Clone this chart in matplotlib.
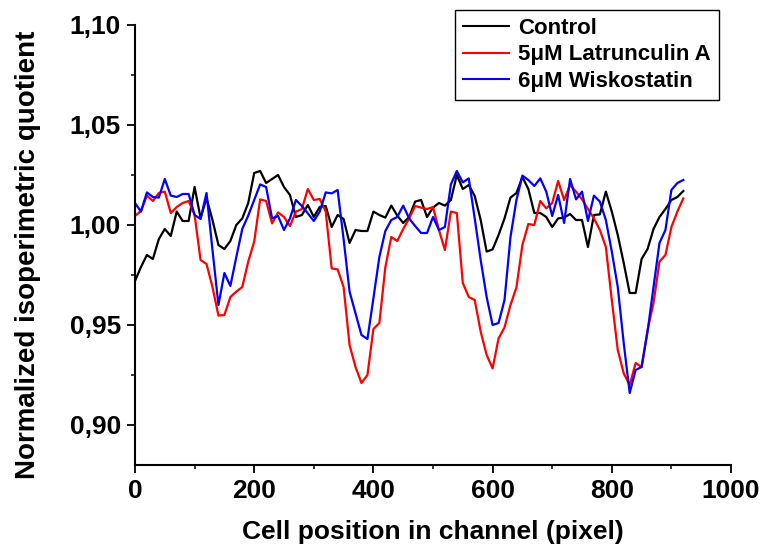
import numpy as np
import matplotlib
matplotlib.use('Agg')
from matplotlib import pyplot as plt
from matplotlib.ticker import MultipleLocator, FuncFormatter

# cell position along the channel (pixel), one sample every 10 px
position = np.arange(0, 930, 10)

control = [0.972, 0.979, 0.985, 0.983, 0.993, 0.998, 0.9945, 1.0067, 1.002, 1.002,
           1.019, 1.0035, 1.0135, 1.0025, 0.990, 0.988, 0.992, 1.000, 1.0033, 1.011,
           1.026, 1.027, 1.021, 1.023, 1.025, 1.019, 1.015, 1.004, 1.005, 1.010,
           1.004, 1.009, 1.0095, 0.999, 1.005, 1.003, 0.991, 0.9975, 0.997, 0.997,
           1.0067, 1.005, 1.0037, 1.0097, 1.0047, 1.001, 1.004, 1.0117, 1.0125, 1.004,
           1.0087, 1.011, 1.0097, 1.0125, 1.025, 1.018, 1.020, 1.0145, 1.0025, 0.9867,
           0.9878, 0.995, 1.0033, 1.0137, 1.016, 1.024, 1.018, 1.006, 1.006, 1.004,
           0.999, 1.0033, 1.0037, 1.0055, 1.0025, 1.0025, 0.989, 1.005, 1.0053, 1.0167,
           1.0067, 0.995, 0.981, 0.966, 0.966, 0.983, 0.988, 0.998, 1.004, 1.008,
           1.0125, 1.014, 1.017]

latrunculin = [1.0045, 1.007, 1.0147, 1.012, 1.016, 1.0167, 1.006, 1.009, 1.011, 1.012,
               1.005, 0.9825, 0.9805, 0.969, 0.9547, 0.955, 0.964, 0.9667, 0.969, 0.9817,
               0.9917, 1.0128, 1.012, 1.0008, 1.0063, 1.004, 0.9995, 1.0067, 1.008, 1.018,
               1.0125, 1.013, 1.0067, 0.9783, 0.9778, 0.969, 0.940, 0.929, 0.921, 0.925,
               0.948, 0.951, 0.9788, 0.994, 0.992, 0.998, 1.0033, 1.0095, 1.0087, 1.008,
               1.009, 0.9975, 0.9875, 1.0067, 1.006, 0.971, 0.964, 0.9625, 0.9467, 0.935,
               0.9283, 0.9433, 0.9488, 0.960, 0.9688, 0.990, 1.0005, 1.000, 1.012, 1.0083,
               1.011, 1.022, 1.0125, 1.020, 1.0167, 1.0128, 1.008, 1.0033, 0.9975, 0.989,
               0.9625, 0.9375, 0.9258, 0.920, 0.931, 0.929, 0.9475, 0.961, 0.9817, 0.985,
               0.999, 1.0067, 1.0133]

wiskostatin = [1.011, 1.0067, 1.0163, 1.014, 1.0137, 1.023, 1.0147, 1.014, 1.0155, 1.0155,
               1.005, 1.003, 1.016, 0.9875, 0.960, 0.976, 0.9695, 0.984, 0.998, 1.0047,
               1.0125, 1.0203, 1.019, 1.0033, 1.0045, 0.9975, 1.0033, 1.0125, 1.0095, 1.0058,
               1.002, 1.0067, 1.0163, 1.0158, 1.0175, 0.993, 0.9667, 0.9558, 0.945, 0.943,
               0.9633, 0.984, 0.997, 1.0025, 1.004, 1.0097, 1.0033, 0.9995, 0.996, 0.996,
               1.004, 0.9975, 0.999, 1.0203, 1.027, 1.0213, 1.0233, 1.0033, 0.9825, 0.964,
               0.950, 0.951, 0.9625, 0.994, 1.0125, 1.0247, 1.0225, 1.0195, 1.0233, 1.0167,
               1.0045, 1.015, 1.001, 1.023, 1.0128, 1.0167, 1.002, 1.0147, 1.0117, 1.0025,
               0.9867, 0.969, 0.941, 0.916, 0.9275, 0.929, 0.9467, 0.969, 0.991, 0.9975,
               1.0175, 1.021, 1.0225]

series = [('Control', control, 'black'),
          ('5\u03bcM Latrunculin A', latrunculin, 'red'),
          ('6\u03bcM Wiskostatin', wiskostatin, 'blue')]

plt.rcParams['font.family'] = ['Liberation Sans', 'DejaVu Sans']
plt.rcParams['font.weight'] = 'bold'

fig = plt.figure(figsize=(7.62, 5.5), dpi=100)
ax = fig.add_axes([135/762, 1 - 465/550, 596/762, 440/550])

for label, values, color in series:
    ax.plot(position, values, '-', color=color, lw=1.6, label=label)

ax.set_xlim(0, 1000)
ax.set_ylim(0.88, 1.10)
ax.xaxis.set_major_locator(MultipleLocator(200))
ax.xaxis.set_minor_locator(MultipleLocator(100))
ax.yaxis.set_major_locator(MultipleLocator(0.05))
ax.yaxis.set_minor_locator(MultipleLocator(0.025))
ax.yaxis.set_major_formatter(FuncFormatter(lambda v, p: '{:.2f}'.format(v).replace('.', ',')))

for side in ['top', 'right']:
    ax.spines[side].set_visible(False)
for side in ['left', 'bottom']:
    ax.spines[side].set_linewidth(1.5)
ax.tick_params(which='major', direction='out', length=6, width=1.3, labelsize=19, pad=4)
ax.tick_params(which='minor', direction='out', length=3, width=1.1)

ax.set_xlabel('Cell position in channel (pixel)', fontsize=19, fontweight='bold', labelpad=12)
ax.set_ylabel('Normalized isoperimetric quotient', fontsize=20, fontweight='bold')
ax.yaxis.set_label_coords(-0.158, 0.477)

leg = ax.legend(loc='upper left', bbox_to_anchor=(455/762, 1 - 10/550),
                bbox_transform=fig.transFigure, borderaxespad=0, fancybox=False,
                framealpha=1, edgecolor='black', fontsize=16, handlelength=2.1,
                handletextpad=0.4, labelspacing=0.25, borderpad=0.35)
leg.get_frame().set_linewidth(1.0)
for line in leg.get_lines():
    line.set_linewidth(1.5)

fig.savefig('out.png', dpi=100)
